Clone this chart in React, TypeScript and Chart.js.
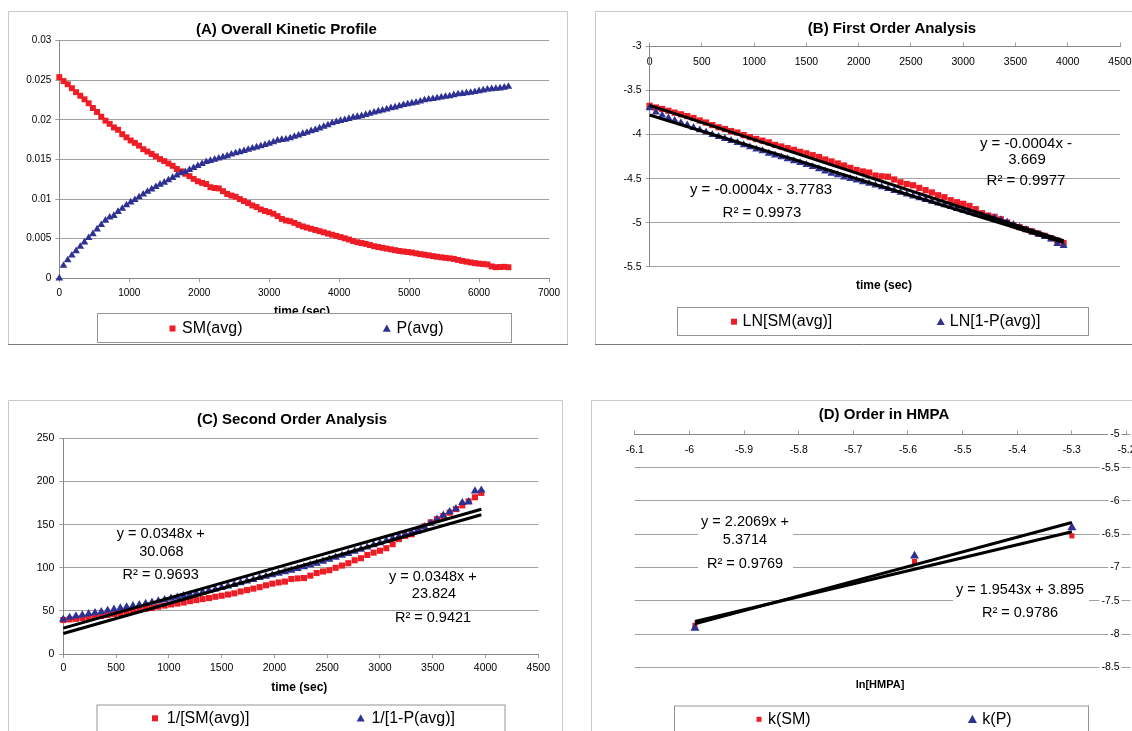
import React, { useEffect, useRef } from "react";
import { Chart, registerables } from "chart.js";

Chart.register(...registerables);

const FONT = '"Liberation Sans", Arial, Helvetica, sans-serif';
const RED = "#ee1c25";
const NAVY = "#2e3192";
const GRID = "#a0a0a0";
const AXIS = "#888888";

// ---------------- DATA ----------------
// time (sec), sampled every 60 s
const TIME_S = [
  0, 60, 120, 180, 240, 300, 360, 420, 480, 540,
  600, 660, 720, 780, 840, 900, 960, 1020, 1080, 1140,
  1200, 1260, 1320, 1380, 1440, 1500, 1560, 1620, 1680, 1740,
  1800, 1860, 1920, 1980, 2040, 2100, 2160, 2220, 2280, 2340,
  2400, 2460, 2520, 2580, 2640, 2700, 2760, 2820, 2880, 2940,
  3000, 3060, 3120, 3180, 3240, 3300, 3360, 3420, 3480, 3540,
  3600, 3660, 3720, 3780, 3840, 3900, 3960, 4020, 4080, 4140,
  4200, 4260, 4320, 4380, 4440, 4500, 4560, 4620, 4680, 4740,
  4800, 4860, 4920, 4980, 5040, 5100, 5160, 5220, 5280, 5340,
  5400, 5460, 5520, 5580, 5640, 5700, 5760, 5820, 5880, 5940,
  6000, 6060, 6120, 6180, 6240, 6300, 6360, 6420,
];

// (A) SM(avg)
const SM_AVG = [
  0.0254, 0.0249, 0.0245, 0.024, 0.0235, 0.02305, 0.0226, 0.0221, 0.0215, 0.021,
  0.0204, 0.0199, 0.0195, 0.01905, 0.01875, 0.0182, 0.0178, 0.0174, 0.0171, 0.01675,
  0.0163, 0.016, 0.0157, 0.0154, 0.01505, 0.0148, 0.0145, 0.0142, 0.0138, 0.0135,
  0.0132, 0.0129, 0.01255, 0.01225, 0.01205, 0.0119, 0.0115, 0.0114, 0.01135, 0.011,
  0.01065, 0.01045, 0.0103, 0.01, 0.00975, 0.0095, 0.0092, 0.009, 0.0087, 0.0085,
  0.00835, 0.00815, 0.00785, 0.0075, 0.0073, 0.0072, 0.007, 0.00675, 0.00655, 0.0064,
  0.00625, 0.0061, 0.00595, 0.0058, 0.00565, 0.0055, 0.00535, 0.0052, 0.00505, 0.0049,
  0.0047, 0.00455, 0.00445, 0.00435, 0.0042, 0.00405, 0.00395, 0.00385, 0.00375, 0.00365,
  0.00355, 0.00345, 0.00338, 0.00332, 0.00325, 0.00315, 0.00305, 0.00298, 0.0029, 0.0028,
  0.00272, 0.00265, 0.00258, 0.00252, 0.00245, 0.00232, 0.0022, 0.0021, 0.002, 0.00192,
  0.00185, 0.0018, 0.00175, 0.0015, 0.0014, 0.00142, 0.00145, 0.0014,
];

// (A) P(avg)
const P_AVG = [
  0, 0.0016, 0.0023, 0.0029, 0.00345, 0.004, 0.00455, 0.0051, 0.0056, 0.0062,
  0.00675, 0.0073, 0.0077, 0.0079, 0.0084, 0.0088, 0.00925, 0.0096, 0.0099, 0.01025,
  0.0106, 0.01095, 0.01125, 0.01155, 0.01185, 0.0121, 0.0124, 0.0127, 0.013, 0.0133,
  0.01345, 0.0137, 0.01395, 0.0142, 0.01445, 0.0147, 0.01485, 0.015, 0.01515, 0.0153,
  0.01545, 0.01565, 0.0158, 0.01595, 0.0161, 0.01625, 0.0164, 0.01655, 0.0167, 0.01685,
  0.017, 0.0172, 0.0174, 0.0175, 0.01755, 0.0177, 0.0179, 0.01805, 0.01825, 0.0184,
  0.0186, 0.01875, 0.01895, 0.01915, 0.01935, 0.0196, 0.01975, 0.0199, 0.02, 0.02015,
  0.0203, 0.0204, 0.0205, 0.02065, 0.0208, 0.02095, 0.0211, 0.0212, 0.02135, 0.0215,
  0.0216, 0.02175, 0.0219, 0.022, 0.0221, 0.0222, 0.02235, 0.0225, 0.0226, 0.02265,
  0.02275, 0.02285, 0.02295, 0.023, 0.02315, 0.02325, 0.0233, 0.0234, 0.02345, 0.02355,
  0.02365, 0.02375, 0.02385, 0.0239, 0.02395, 0.024, 0.0241, 0.0242,
];

// (B) first-order analysis, 0..3960 s
const LN_SM = [
  -3.673, -3.693, -3.709, -3.73, -3.751, -3.77, -3.79, -3.812, -3.84, -3.863,
  -3.892, -3.917, -3.937, -3.961, -3.977, -4.006, -4.029, -4.051, -4.069, -4.089,
  -4.117, -4.135, -4.154, -4.173, -4.196, -4.213, -4.234, -4.255, -4.283, -4.305,
  -4.328, -4.351, -4.378, -4.402, -4.419, -4.431, -4.465, -4.474, -4.479, -4.51,
  -4.542, -4.561, -4.576, -4.605, -4.631, -4.657, -4.689, -4.711, -4.745, -4.768,
  -4.786, -4.81, -4.847, -4.893, -4.92, -4.934, -4.962, -4.998, -5.028, -5.052,
  -5.075, -5.1, -5.124, -5.15, -5.176, -5.203, -5.231,
];
const LN_1MP = [
  -3.697, -3.747, -3.781, -3.812, -3.84, -3.868, -3.892, -3.922, -3.948, -3.974,
  -4.001, -4.023, -4.046, -4.069, -4.092, -4.117, -4.141, -4.167, -4.186, -4.213,
  -4.234, -4.255, -4.276, -4.298, -4.32, -4.343, -4.366, -4.39, -4.415, -4.44,
  -4.457, -4.483, -4.501, -4.519, -4.538, -4.556, -4.576, -4.595, -4.615, -4.636,
  -4.657, -4.678, -4.7, -4.719, -4.739, -4.758, -4.78, -4.8, -4.82, -4.841,
  -4.86, -4.88, -4.9, -4.917, -4.934, -4.948, -4.969, -4.994, -5.021, -5.052,
  -5.08, -5.108, -5.133, -5.16, -5.189, -5.24, -5.262,
];
const TREND_B_X = [0, 3960];
const TREND_B_SM = [-3.669, -5.205];
const TREND_B_P = [-3.7783, -5.225];

// (C) second-order analysis, 0..3960 s
const INV_SM = [
  39.4, 40.2, 40.8, 41.7, 42.6, 43.4, 44.2, 45.2, 46.5, 47.6,
  49.0, 50.3, 51.3, 52.5, 53.3, 54.9, 56.2, 57.5, 58.5, 59.7,
  61.3, 62.5, 63.7, 64.9, 66.4, 67.6, 69.0, 70.4, 72.5, 74.1,
  75.8, 77.5, 79.7, 81.6, 83.0, 84.0, 87.0, 87.7, 88.1, 90.9,
  93.9, 95.7, 97.1, 100.0, 102.6, 105.3, 108.7, 111.1, 114.9, 117.6,
  119.8, 122.7, 127.4, 133.3, 137.0, 138.9, 142.9, 148.1, 152.7, 156.3,
  160.0, 163.9, 168.1, 172.4, 177.0, 181.8, 186.9,
];
const INV_1MP = [
  40.3, 42.4, 43.9, 45.2, 46.5, 47.8, 49.0, 50.5, 51.8, 53.2,
  54.6, 55.9, 57.1, 58.5, 59.9, 61.3, 62.9, 64.5, 65.8, 67.6,
  69.0, 70.4, 71.9, 73.5, 75.2, 76.9, 78.7, 80.6, 82.6, 84.7,
  86.2, 88.5, 90.1, 91.7, 93.5, 95.2, 97.1, 99.0, 101.0, 103.1,
  105.3, 107.5, 109.9, 112.1, 114.3, 116.6, 119.0, 121.5, 123.9, 126.6,
  129.0, 131.6, 134.2, 136.6, 138.9, 140.8, 143.9, 147.5, 151.5, 156.3,
  160.8, 165.0, 168.5, 175.5, 176.5, 189.0, 190.0,
];
const TREND_C_X = [0, 3960];
const TREND_C_P = [30.068, 167.9];
const TREND_C_SM = [23.824, 161.6];

// (D) order in HMPA
const LN_HMPA = [-5.99, -5.588, -5.3];
const K_SM = [-7.87, -6.91, -6.525];
const K_P = [-7.91, -6.826, -6.4];
const TREND_D_X = [-5.99, -5.3];
const TREND_D_P = [-7.848, -6.325];
const TREND_D_SM = [-7.811, -6.463];

// ---------------- HELPERS ----------------
type Box = { x: number; y: number; w: number; h: number };
type Txt = { t: string; x: number; y: number; size: number; bold?: boolean };
type LegItem = { label: string; kind: "rect" | "tri"; mx: number; tx: number; ms: number };
type Decor = {
  box: Box;
  right: boolean;
  bottom: boolean;
  title: Txt;
  axisTitle: Txt;
  notes: Txt[];
  noteBgs: Box[];
  legend: { box: Box; cy: number; size: number; items: LegItem[] };
};

const fmt = (v: any) => String(Math.round(Number(v) * 1000) / 1000);

function drawMarker(ctx: CanvasRenderingContext2D, kind: string, x: number, y: number, s: number) {
  if (kind === "rect") {
    ctx.fillStyle = RED;
    ctx.fillRect(x - s / 2, y - s / 2, s, s);
  } else {
    ctx.fillStyle = NAVY;
    ctx.beginPath();
    ctx.moveTo(x, y - s * 0.5);
    ctx.lineTo(x + s / 2, y + s * 0.4);
    ctx.lineTo(x - s / 2, y + s * 0.4);
    ctx.closePath();
    ctx.fill();
  }
}

function decorPlugin(d: Decor) {
  const ox = d.box.x;
  const oy = d.box.y;
  const text = (ctx: CanvasRenderingContext2D, it: Txt, align: CanvasTextAlign = "center") => {
    ctx.font = `${it.bold ? "bold " : ""}${it.size}px ${FONT}`;
    ctx.fillStyle = "#000";
    ctx.textAlign = align;
    ctx.textBaseline = "middle";
    ctx.fillText(it.t, it.x - ox, it.y - oy);
  };
  return {
    id: "decor",
    beforeDraw(chart: any) {
      const ctx: CanvasRenderingContext2D = chart.ctx;
      const w = chart.width;
      const h = chart.height;
      ctx.save();
      ctx.fillStyle = "#fff";
      ctx.fillRect(0, 0, w, h);
      ctx.lineWidth = 1;
      ctx.strokeStyle = "#c8c8c8";
      ctx.beginPath();
      ctx.moveTo(0.5, d.bottom ? h - 0.5 : h);
      ctx.lineTo(0.5, 0.5);
      ctx.lineTo(d.right ? w - 0.5 : w, 0.5);
      if (d.right) ctx.lineTo(w - 0.5, d.bottom ? h - 0.5 : h);
      ctx.stroke();
      if (d.bottom) {
        ctx.strokeStyle = "#7a7a7a";
        ctx.beginPath();
        ctx.moveTo(0, h - 0.5);
        ctx.lineTo(w, h - 0.5);
        ctx.stroke();
      }
      ctx.restore();
    },
    beforeDatasetsDraw(chart: any) {
      const ctx: CanvasRenderingContext2D = chart.ctx;
      ctx.save();
      ctx.fillStyle = "#fff";
      d.noteBgs.forEach((b) => ctx.fillRect(b.x - ox, b.y - oy, b.w, b.h));
      d.notes.forEach((n) => text(ctx, n));
      ctx.restore();
    },
    afterDraw(chart: any) {
      const ctx: CanvasRenderingContext2D = chart.ctx;
      ctx.save();
      text(ctx, d.title);
      text(ctx, d.axisTitle);
      const L = d.legend;
      const lx = L.box.x - ox;
      const ly = L.box.y - oy;
      ctx.fillStyle = "#fff";
      ctx.fillRect(lx, ly, L.box.w, L.box.h);
      ctx.lineWidth = 1;
      ctx.strokeStyle = "#949494";
      ctx.strokeRect(lx + 0.5, ly + 0.5, L.box.w - 1, L.box.h - 1);
      L.items.forEach((it) => {
        drawMarker(ctx, it.kind, it.mx - ox, L.cy - oy, it.ms);
        text(ctx, { t: it.label, x: it.tx, y: L.cy, size: L.size }, "left");
      });
      ctx.restore();
    },
  };
}

function axis(o: {
  pos: "left" | "right" | "top" | "bottom";
  min: number;
  max: number;
  step: number;
  pad: number;
  fit: number;
  gridOn: boolean;
  size: number;
  mirror?: boolean;
  backdrop?: boolean;
  noBorder?: boolean;
}) {
  const horiz = o.pos === "top" || o.pos === "bottom";
  return {
    type: "linear",
    position: o.pos,
    min: o.min,
    max: o.max,
    ticks: {
      stepSize: o.step,
      autoSkip: false,
      maxRotation: 0,
      minRotation: 0,
      padding: o.pad,
      mirror: !!o.mirror,
      color: "#000",
      font: { family: FONT, size: o.size },
      callback: fmt,
      showLabelBackdrop: !!o.backdrop,
      backdropColor: "#fff",
      backdropPadding: { top: 1, bottom: 1, left: 2, right: 2 },
    },
    grid: {
      display: true,
      drawOnChartArea: o.gridOn,
      drawTicks: true,
      tickLength: 4,
      color: GRID,
      tickColor: GRID,
      lineWidth: 1,
    },
    border: { display: !o.noBorder, color: AXIS, width: 1 },
    afterFit: (s: any) => {
      if (horiz) s.height = o.fit;
      else s.width = o.fit;
      s.paddingLeft = 0;
      s.paddingRight = 0;
      s.paddingTop = 0;
      s.paddingBottom = 0;
    },
  };
}

const pts = (xs: number[], ys: number[]) => ys.map((y, i) => ({ x: xs[i], y }));

function markers(label: string, xs: number[], ys: number[], kind: "rect" | "tri", r: number, order: number) {
  const c = kind === "rect" ? RED : NAVY;
  return {
    label,
    data: pts(xs, ys),
    showLine: false,
    pointStyle: kind === "rect" ? "rect" : "triangle",
    pointRadius: r,
    pointBackgroundColor: c,
    pointBorderColor: c,
    pointBorderWidth: 0,
    backgroundColor: c,
    borderColor: c,
    order,
    clip: false,
  };
}

function trend(xs: number[], ys: number[]) {
  return {
    label: "trend",
    data: pts(xs, ys),
    showLine: true,
    borderColor: "#000",
    borderWidth: 3,
    pointRadius: 0,
    fill: false,
    order: 0,
    clip: false,
  };
}

function baseOptions(padding: any, scales: any) {
  return {
    responsive: false,
    animation: false,
    events: [],
    layout: { padding },
    plugins: { legend: { display: false }, title: { display: false }, tooltip: { enabled: false } },
    scales,
  };
}

// ---------------- PANELS ----------------
const BOX_A: Box = { x: 8, y: 11, w: 560, h: 334 };
const BOX_B: Box = { x: 595, y: 11, w: 537, h: 334 };
const BOX_C: Box = { x: 8, y: 400, w: 555, h: 331 };
const BOX_D: Box = { x: 591, y: 400, w: 541, h: 331 };

const T_B = TIME_S.slice(0, 67);

function makeA(cv: HTMLCanvasElement) {
  const decor: Decor = {
    box: BOX_A, right: true, bottom: true,
    title: { t: "(A) Overall Kinetic Profile", x: 286.4, y: 29.5, size: 15, bold: true },
    axisTitle: { t: "time (sec)", x: 302, y: 311.5, size: 12, bold: true },
    notes: [], noteBgs: [],
    legend: {
      box: { x: 97, y: 313, w: 415, h: 30 }, cy: 328.5, size: 16,
      items: [
        { label: "SM(avg)", kind: "rect", mx: 172.5, tx: 182, ms: 6 },
        { label: "P(avg)", kind: "tri", mx: 386.8, tx: 396.4, ms: 8 },
      ],
    },
  };
  return new Chart(cv, {
    type: "scatter",
    data: {
      datasets: [
        markers("SM(avg)", TIME_S, SM_AVG, "rect", 4.2, 2),
        markers("P(avg)", TIME_S, P_AVG, "tri", 4.4, 1),
      ],
    },
    options: baseOptions({ left: 0, top: 29.7, right: 19, bottom: 0 }, {
      x: axis({ pos: "bottom", min: 0, max: 7000, step: 1000, pad: 5, fit: 66.7, gridOn: false, size: 10 }),
      y: axis({ pos: "left", min: 0, max: 0.03, step: 0.005, pad: 4, fit: 51.3, gridOn: true, size: 10 }),
    }),
    plugins: [decorPlugin(decor)],
  } as any);
}

function makeB(cv: HTMLCanvasElement) {
  const decor: Decor = {
    box: BOX_B, right: false, bottom: true,
    title: { t: "(B) First Order Analysis", x: 892, y: 28.5, size: 15, bold: true },
    axisTitle: { t: "time (sec)", x: 884, y: 286, size: 12, bold: true },
    notes: [
      { t: "y = -0.0004x - 3.7783", x: 761, y: 190, size: 15 },
      { t: "R² = 0.9973", x: 762, y: 213, size: 15 },
      { t: "y = -0.0004x -", x: 1026, y: 144, size: 15 },
      { t: "3.669", x: 1027, y: 159.5, size: 15 },
      { t: "R² = 0.9977", x: 1026, y: 181, size: 15 },
    ],
    noteBgs: [],
    legend: {
      box: { x: 677, y: 307, w: 412, h: 29 }, cy: 321.7, size: 16,
      items: [
        { label: "LN[SM(avg)]", kind: "rect", mx: 734, tx: 742.5, ms: 6 },
        { label: "LN[1-P(avg)]", kind: "tri", mx: 940.7, tx: 949.8, ms: 8 },
      ],
    },
  };
  return new Chart(cv, {
    type: "scatter",
    data: {
      datasets: [
        trend(TREND_B_X, TREND_B_SM),
        trend(TREND_B_X, TREND_B_P),
        markers("LN[SM(avg)]", T_B, LN_SM, "rect", 4.4, 2),
        markers("LN[1-P(avg)]", T_B, LN_1MP, "tri", 4.6, 1),
      ],
    },
    options: baseOptions({ left: 0, top: 25.5, right: 12, bottom: 78.3 }, {
      x: axis({ pos: "top", min: 0, max: 4500, step: 500, pad: 9, fit: 10, gridOn: false, size: 10.5, mirror: true }),
      y: axis({ pos: "left", min: -5.5, max: -3, step: 0.5, pad: 4, fit: 54.6, gridOn: true, size: 10.5 }),
    }),
    plugins: [decorPlugin(decor)],
  } as any);
}

function makeC(cv: HTMLCanvasElement) {
  const decor: Decor = {
    box: BOX_C, right: true, bottom: false,
    title: { t: "(C) Second Order Analysis", x: 292, y: 420, size: 15, bold: true },
    axisTitle: { t: "time (sec)", x: 299.3, y: 687.3, size: 12, bold: true },
    notes: [
      { t: "y = 0.0348x +", x: 160.7, y: 534, size: 14.5 },
      { t: "30.068", x: 161.4, y: 551.7, size: 14.5 },
      { t: "R² = 0.9693", x: 160.7, y: 575, size: 14.5 },
      { t: "y = 0.0348x +", x: 432.9, y: 576.7, size: 14.5 },
      { t: "23.824", x: 434, y: 594, size: 14.5 },
      { t: "R² = 0.9421", x: 433, y: 617.7, size: 14.5 },
    ],
    noteBgs: [],
    legend: {
      box: { x: 96.5, y: 704.5, w: 409, h: 40 }, cy: 718.3, size: 16,
      items: [
        { label: "1/[SM(avg)]", kind: "rect", mx: 155, tx: 166.8, ms: 6 },
        { label: "1/[1-P(avg)]", kind: "tri", mx: 360.7, tx: 371.4, ms: 8 },
      ],
    },
  };
  return new Chart(cv, {
    type: "scatter",
    data: {
      datasets: [
        trend(TREND_C_X, TREND_C_P),
        trend(TREND_C_X, TREND_C_SM),
        markers("1/[SM(avg)]", T_B, INV_SM, "rect", 4.3, 2),
        markers("1/[1-P(avg)]", T_B, INV_1MP, "tri", 4.8, 1),
      ],
    },
    options: baseOptions({ left: 0, top: 38.5, right: 24.7, bottom: 0 }, {
      x: axis({ pos: "bottom", min: 0, max: 4500, step: 500, pad: 4.3, fit: 77, gridOn: false, size: 10.5 }),
      y: axis({ pos: "left", min: 0, max: 250, step: 50, pad: 5, fit: 55.3, gridOn: true, size: 10.5 }),
    }),
    plugins: [decorPlugin(decor)],
  } as any);
}

function makeD(cv: HTMLCanvasElement) {
  const decor: Decor = {
    box: BOX_D, right: false, bottom: false,
    title: { t: "(D) Order in HMPA", x: 884, y: 415, size: 15, bold: true },
    axisTitle: { t: "ln[HMPA]", x: 880, y: 685, size: 11, bold: true },
    notes: [
      { t: "y = 2.2069x +", x: 745, y: 522, size: 14.5 },
      { t: "5.3714", x: 745, y: 539.5, size: 14.5 },
      { t: "R² = 0.9769", x: 745, y: 563.5, size: 14.5 },
      { t: "y = 1.9543x + 3.895", x: 1020, y: 590, size: 14.5 },
      { t: "R² = 0.9786", x: 1020, y: 613, size: 14.5 },
    ],
    noteBgs: [
      { x: 698, y: 511, w: 95, h: 64 },
      { x: 953, y: 579, w: 136, h: 44 },
    ],
    legend: {
      box: { x: 674, y: 705.5, w: 415, h: 40 }, cy: 719.3, size: 16,
      items: [
        { label: "k(SM)", kind: "rect", mx: 759, tx: 768, ms: 5 },
        { label: "k(P)", kind: "tri", mx: 972.4, tx: 982.3, ms: 9 },
      ],
    },
  };
  return new Chart(cv, {
    type: "scatter",
    data: {
      datasets: [
        trend(TREND_D_X, TREND_D_P),
        trend(TREND_D_X, TREND_D_SM),
        markers("k(SM)", LN_HMPA, K_SM, "rect", 3.6, 2),
        markers("k(P)", LN_HMPA, K_P, "tri", 5.2, 1),
      ],
    },
    options: baseOptions({ left: 43.8, top: 24.4, right: 0, bottom: 63.7 }, {
      x: axis({ pos: "top", min: -6.1, max: -5.2, step: 0.1, pad: 9, fit: 10, gridOn: false, size: 10.5, mirror: true }),
      y: axis({ pos: "right", min: -8.5, max: -5, step: 0.5, pad: -7, fit: 5.5, gridOn: true, size: 10.5, mirror: true, backdrop: true, noBorder: true }),
    }),
    plugins: [decorPlugin(decor)],
  } as any);
}

function Panel({ box, make }: { box: Box; make: (c: HTMLCanvasElement) => Chart }) {
  const ref = useRef<HTMLCanvasElement>(null);
  useEffect(() => {
    if (!ref.current) return;
    const chart = make(ref.current);
    return () => chart.destroy();
  }, []);
  return (
    <canvas
      ref={ref}
      width={box.w}
      height={box.h}
      style={{ position: "absolute", left: box.x, top: box.y, width: box.w, height: box.h }}
    />
  );
}

export default function App() {
  return (
    <div style={{ position: "absolute", left: 0, top: 0, width: 1132, height: 731, overflow: "hidden", background: "#fff" }}>
      <Panel box={BOX_A} make={makeA} />
      <Panel box={BOX_B} make={makeB} />
      <Panel box={BOX_C} make={makeC} />
      <Panel box={BOX_D} make={makeD} />
    </div>
  );
}
